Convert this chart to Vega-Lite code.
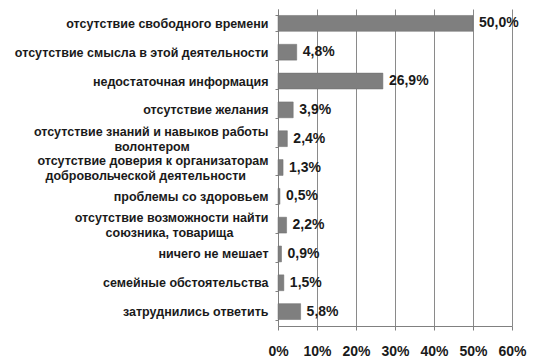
{
  "$schema": "https://vega.github.io/schema/vega-lite/v6.json",
  "width": 234,
  "height": 317,
  "autosize": {"type": "none"},
  "padding": {"left": 278, "top": 9, "right": 44, "bottom": 35},
  "background": "white",
  "config": {
    "locale": {"number": {"decimal": ",", "thousands": " ", "grouping": [3], "currency": ["", " ₽"]}},
    "font": "Liberation Sans",
    "view": {"stroke": null}
  },
  "data": {
    "values": [
      {"label": "отсутствие свободного времени", "order": 1, "v": 0.500},
      {"label": "отсутствие смысла в этой деятельности", "order": 2, "v": 0.048},
      {"label": "недостаточная информация", "order": 3, "v": 0.269},
      {"label": "отсутствие желания", "order": 4, "v": 0.039},
      {"label": "отсутствие знаний и навыков работы|волонтером", "order": 5, "v": 0.024},
      {"label": "отсутствие доверия к организаторам|добровольческой деятельности", "order": 6, "v": 0.013},
      {"label": "проблемы со здоровьем", "order": 7, "v": 0.005},
      {"label": "отсутствие возможности найти|союзника, товарища", "order": 8, "v": 0.022},
      {"label": "ничего не мешает", "order": 9, "v": 0.009},
      {"label": "семейные обстоятельства", "order": 10, "v": 0.015},
      {"label": "затруднились ответить", "order": 11, "v": 0.058}
    ]
  },
  "encoding": {
    "y": {
      "field": "label",
      "type": "nominal",
      "sort": {"field": "order", "op": "min", "order": "ascending"},
      "scale": {"paddingInner": 0.45, "paddingOuter": 0.225},
      "axis": {
        "title": null,
        "labelExpr": "datum.value ? (indexof(datum.value, '|') >= 0 ? [split(datum.value, '|')[0], pad(split(datum.value, '|')[1], length(split(datum.value, '|')[1]) + round((length(split(datum.value, '|')[0]) - length(split(datum.value, '|')[1])) / 2) - 1, '\u2002') + '\u2800'] : datum.value) : ''",
        "labelFont": "Liberation Sans",
        "labelFontSize": 12.5,
        "labelFontWeight": "bold",
        "labelColor": "#1a1a1a",
        "labelLineHeight": 15,
        "labelPadding": 7,
        "labelLimit": 300,
        "labelOffset": {"condition": {"test": "datum.value && indexof(datum.value, '|') >= 0", "value": -7.5}, "value": 0},
        "tickBand": "extent",
        "tickSize": 3,
        "tickColor": "#808080",
        "domainColor": "#808080",
        "grid": false
      }
    },
    "x": {
      "field": "v",
      "type": "quantitative",
      "scale": {"domain": [0, 0.6], "nice": false},
      "axis": {
        "title": null,
        "format": ".0%",
        "values": [0, 0.1, 0.2, 0.3, 0.4, 0.5, 0.6],
        "labelFont": "Liberation Sans",
        "labelFontSize": 14,
        "labelFontWeight": "bold",
        "labelColor": "#1a1a1a",
        "labelPadding": 14,
        "labelFlush": false,
        "tickSize": 4,
        "tickColor": "#808080",
        "domainColor": "#808080",
        "grid": true,
        "gridColor": "#8a8a8a",
        "gridWidth": 1
      }
    }
  },
  "layer": [
    {"mark": {"type": "bar", "color": "#7f7f7f", "stroke": "#6e6e6e", "strokeWidth": 0.5}},
    {
      "mark": {"type": "text", "align": "left", "dx": 6, "font": "Liberation Sans", "fontSize": 14, "fontWeight": "bold", "color": "#1a1a1a"},
      "encoding": {"text": {"field": "v", "type": "quantitative", "format": ".1%"}}
    }
  ]
}
